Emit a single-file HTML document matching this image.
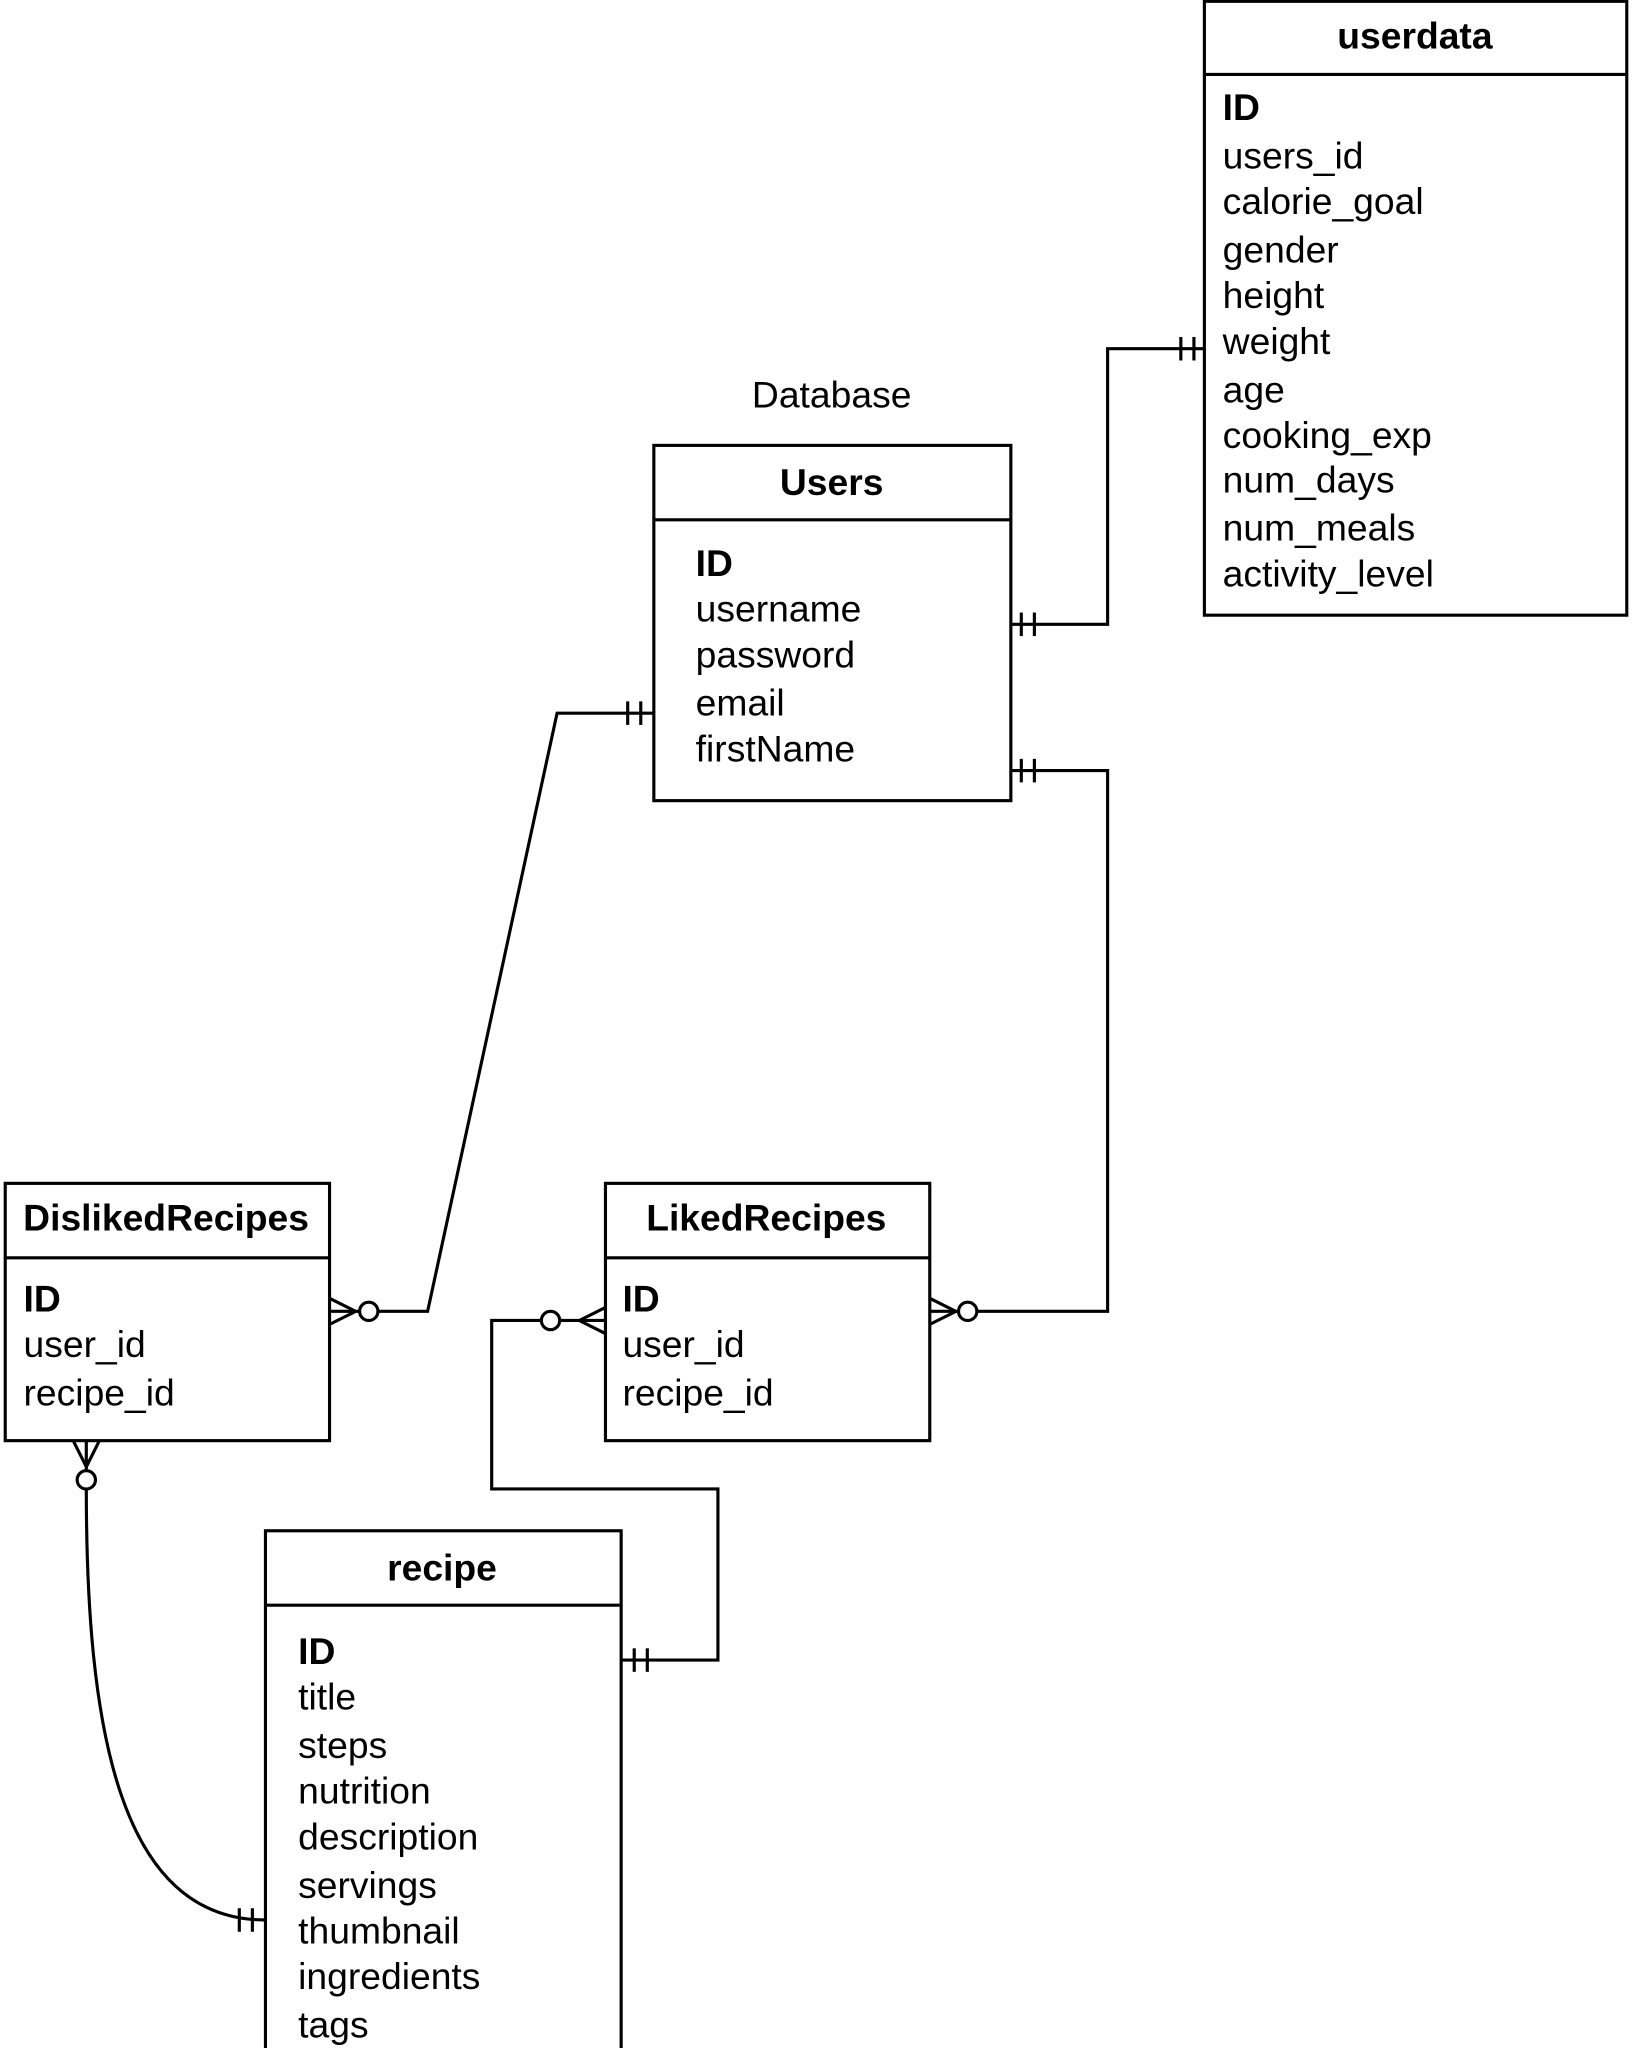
<!DOCTYPE html>
<html><head><meta charset="utf-8"><style>
html,body{margin:0;padding:0;background:#fff;}
svg{display:block;}
text{font-family:"Liberation Sans",Arial,sans-serif;font-size:28.5px;fill:#000;}
.b{font-weight:bold;}
</style></head><body>
<svg width="1632" height="2048" viewBox="0 0 1248 1568" preserveAspectRatio="none" xmlns="http://www.w3.org/2000/svg">
<g fill="none" stroke="#000" stroke-width="2.4">
<rect x="921" y="1" width="323" height="470"/><line x1="921" y1="57" x2="1244" y2="57"/>
<rect x="500" y="341" width="273" height="272"/><line x1="500" y1="398" x2="773" y2="398"/>
<rect x="4" y="906" width="248" height="197"/><line x1="4" y1="963" x2="252" y2="963"/>
<rect x="463" y="906" width="248" height="197"/><line x1="463" y1="963" x2="711" y2="963"/>
<rect x="203" y="1172" width="272" height="420"/><line x1="203" y1="1229" x2="475" y2="1229"/>
<polyline points="773,478 847,478 847,267 921,267"/>
<line x1="781" y1="469" x2="781" y2="487"/><line x1="791" y1="469" x2="791" y2="487"/>
<line x1="903" y1="258" x2="903" y2="276"/><line x1="913" y1="258" x2="913" y2="276"/>
<polyline points="500,546 426,546 327,1004 289,1004"/>
<line x1="480" y1="537" x2="480" y2="555"/><line x1="490" y1="537" x2="490" y2="555"/>
<circle cx="282" cy="1004" r="7" fill="#fff"/>
<line x1="252" y1="994" x2="272" y2="1004"/><line x1="252" y1="1014" x2="272" y2="1004"/><line x1="252" y1="1004" x2="275" y2="1004"/>
<polyline points="773,590 847,590 847,1004 747,1004"/>
<line x1="781" y1="581" x2="781" y2="599"/><line x1="791" y1="581" x2="791" y2="599"/>
<circle cx="740" cy="1004" r="7" fill="#fff"/>
<line x1="711" y1="994" x2="731" y2="1004"/><line x1="711" y1="1014" x2="731" y2="1004"/><line x1="711" y1="1004" x2="733" y2="1004"/>
<polyline points="475,1271 549,1271 549,1140 376,1140 376,1011 414,1011"/>
<line x1="485" y1="1262" x2="485" y2="1280"/><line x1="495" y1="1262" x2="495" y2="1280"/>
<circle cx="421" cy="1011" r="7" fill="#fff"/>
<line x1="463" y1="1001" x2="443" y2="1011"/><line x1="463" y1="1021" x2="443" y2="1011"/><line x1="463" y1="1011" x2="428" y2="1011"/>
<path d="M66,1140 C66,1320 90,1470 203,1470"/>
<line x1="183" y1="1461" x2="183" y2="1479"/><line x1="193" y1="1461" x2="193" y2="1479"/>
<circle cx="66" cy="1133" r="7" fill="#fff"/>
<line x1="56" y1="1103" x2="66" y2="1123"/><line x1="76" y1="1103" x2="66" y2="1123"/><line x1="66" y1="1103" x2="66" y2="1126"/>
</g>
<text x="1082" y="37" text-anchor="middle" class="b">userdata</text>
<text x="935" y="92" class="b">ID</text>
<text x="935" y="129">users_id</text>
<text x="935" y="164">calorie_goal</text>
<text x="935" y="201">gender</text>
<text x="935" y="236">height</text>
<text x="935" y="271">weight</text>
<text x="935" y="308">age</text>
<text x="935" y="343">cooking_exp</text>
<text x="935" y="377">num_days</text>
<text x="935" y="414">num_meals</text>
<text x="935" y="449">activity_level</text>
<text x="636" y="312" text-anchor="middle">Database</text>
<text x="636" y="379" text-anchor="middle" class="b">Users</text>
<text x="532" y="441" class="b">ID</text>
<text x="532" y="476">username</text>
<text x="532" y="511">password</text>
<text x="532" y="548">email</text>
<text x="532" y="583">firstName</text>
<text x="127" y="942" text-anchor="middle" class="b">DislikedRecipes</text>
<text x="18" y="1004" class="b">ID</text>
<text x="18" y="1039">user_id</text>
<text x="18" y="1076">recipe_id</text>
<text x="586" y="942" text-anchor="middle" class="b">LikedRecipes</text>
<text x="476" y="1004" class="b">ID</text>
<text x="476" y="1039">user_id</text>
<text x="476" y="1076">recipe_id</text>
<text x="338" y="1210" text-anchor="middle" class="b">recipe</text>
<text x="228" y="1274" class="b">ID</text>
<text x="228" y="1309">title</text>
<text x="228" y="1346">steps</text>
<text x="228" y="1381">nutrition</text>
<text x="228" y="1416">description</text>
<text x="228" y="1453">servings</text>
<text x="228" y="1488">thumbnail</text>
<text x="228" y="1523">ingredients</text>
<text x="228" y="1560">tags</text>
</svg>
</body></html>
